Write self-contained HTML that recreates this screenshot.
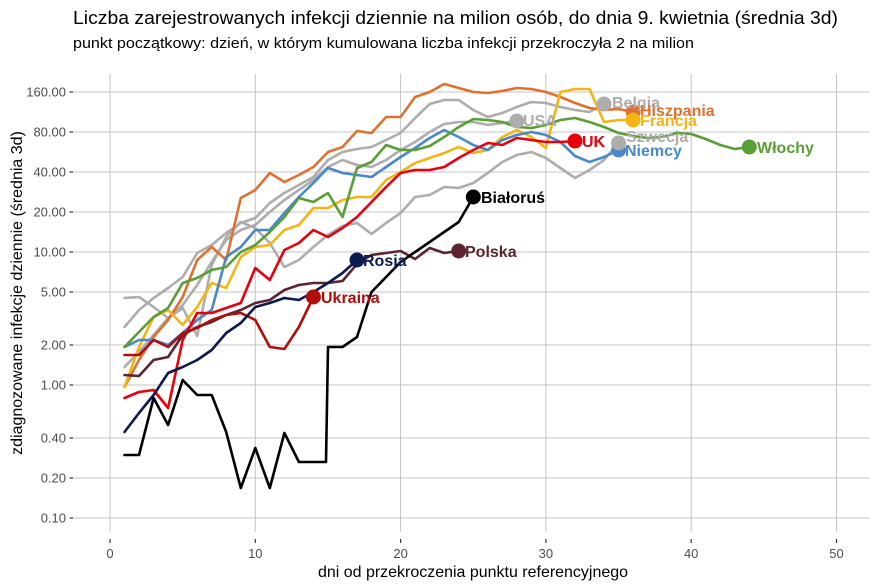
<!DOCTYPE html>
<html><head><meta charset="utf-8"><style>
html,body{margin:0;padding:0;background:#fff;}
svg{display:block;font-family:"Liberation Sans",Arial,sans-serif;}
</style></head><body>
<svg width="880" height="587" viewBox="0 0 880 587" xmlns="http://www.w3.org/2000/svg">
<rect width="880" height="587" fill="#fff"/>
<text x="73" y="24" font-size="18" fill="#000" textLength="765" lengthAdjust="spacingAndGlyphs">Liczba zarejestrowanych infekcji dziennie na milion osób, do dnia 9. kwietnia (średnia 3d)</text>
<text x="73" y="48" font-size="15" fill="#000" textLength="621" lengthAdjust="spacingAndGlyphs">punkt początkowy: dzień, w którym kumulowana liczba infekcji przekroczyła 2 na milion</text>
<g stroke="#c4c4c4" stroke-width="1">
<line x1="73" y1="92" x2="870" y2="92"/><line x1="73" y1="132" x2="870" y2="132"/><line x1="73" y1="172" x2="870" y2="172"/><line x1="73" y1="212" x2="870" y2="212"/><line x1="73" y1="252" x2="870" y2="252"/><line x1="73" y1="292" x2="870" y2="292"/><line x1="73" y1="345" x2="870" y2="345"/><line x1="73" y1="385" x2="870" y2="385"/><line x1="73" y1="438" x2="870" y2="438"/><line x1="73" y1="478" x2="870" y2="478"/><line x1="73" y1="518" x2="870" y2="518"/>
<line x1="110" y1="74" x2="110" y2="532"/><line x1="255.3" y1="74" x2="255.3" y2="532"/><line x1="400.6" y1="74" x2="400.6" y2="532"/><line x1="545.9" y1="74" x2="545.9" y2="532"/><line x1="691.2" y1="74" x2="691.2" y2="532"/><line x1="836.5" y1="74" x2="836.5" y2="532"/>
</g>
<g stroke="#333" stroke-width="1.2">
<line x1="69.5" y1="92" x2="73" y2="92"/><line x1="69.5" y1="132" x2="73" y2="132"/><line x1="69.5" y1="172" x2="73" y2="172"/><line x1="69.5" y1="212" x2="73" y2="212"/><line x1="69.5" y1="252" x2="73" y2="252"/><line x1="69.5" y1="292" x2="73" y2="292"/><line x1="69.5" y1="345" x2="73" y2="345"/><line x1="69.5" y1="385" x2="73" y2="385"/><line x1="69.5" y1="438" x2="73" y2="438"/><line x1="69.5" y1="478" x2="73" y2="478"/><line x1="69.5" y1="518" x2="73" y2="518"/>
<line x1="110" y1="539" x2="110" y2="543"/><line x1="255.3" y1="539" x2="255.3" y2="543"/><line x1="400.6" y1="539" x2="400.6" y2="543"/><line x1="545.9" y1="539" x2="545.9" y2="543"/><line x1="691.2" y1="539" x2="691.2" y2="543"/><line x1="836.5" y1="539" x2="836.5" y2="543"/>
</g>
<g font-size="13" fill="#4d4d4d" text-anchor="end">
<text x="66" y="96.6">160.00</text><text x="66" y="136.6">80.00</text><text x="66" y="176.6">40.00</text><text x="66" y="216.6">20.00</text><text x="66" y="256.6">10.00</text><text x="66" y="296.6">5.00</text><text x="66" y="349.6">2.00</text><text x="66" y="389.6">1.00</text><text x="66" y="442.6">0.40</text><text x="66" y="482.6">0.20</text><text x="66" y="522.6">0.10</text>
</g>
<g font-size="13" fill="#4d4d4d" text-anchor="middle">
<text x="110" y="558">0</text><text x="255.3" y="558">10</text><text x="400.6" y="558">20</text><text x="545.9" y="558">30</text><text x="691.2" y="558">40</text><text x="836.5" y="558">50</text>
</g>
<text x="473" y="577" font-size="16" text-anchor="middle" fill="#000" textLength="310" lengthAdjust="spacingAndGlyphs">dni od przekroczenia punktu referencyjnego</text>
<text transform="translate(22,293) rotate(-90)" font-size="16" text-anchor="middle" fill="#000">zdiagnozowane infekcje dziennie (średnia 3d)</text>

<g fill="none" stroke-width="2.6" stroke-linejoin="round" stroke-linecap="round">
<polyline stroke="#adadad" points="124.5,298 139,297 153.6,307 168.1,318 182.7,308 197.2,336 211.7,265 226.2,237 240.8,222 255.3,228 269.8,243 284.4,267 298.9,260 313.4,247 328,235 342.5,226 357,223 371.5,234 386.1,223 400.6,213 415.1,197 429.7,195 444.2,187 458.7,188 473.3,183 487.8,173 502.3,162 516.8,155 531.4,152 545.9,158 560.4,168 575,178 589.5,170 604,160 618.6,143"/>
<polyline stroke="#adadad" points="124.5,327 139,310 153.6,298 168.1,288 182.7,277 197.2,253 211.7,245 226.2,233 240.8,223 255.3,218 269.8,203 284.4,193 298.9,185 313.4,177 328,160 342.5,152 357,149 371.5,147 386.1,140 400.6,133 415.1,118 429.7,104 444.2,100 458.7,100 473.3,110 487.8,117 502.3,113 516.8,107 531.4,102 545.9,103 560.4,107 575,110 589.5,112 604,104"/>
<polyline stroke="#adadad" points="124.5,367 139,352 153.6,335 168.1,318 182.7,305 197.2,285 211.7,262 226.2,240 240.8,230 255.3,225 269.8,212 284.4,200 298.9,190 313.4,180 328,167 342.5,160 357,165 371.5,167 386.1,160 400.6,150 415.1,142 429.7,132 444.2,124 458.7,122 473.3,122 487.8,125 502.3,123 516.8,121"/>
<polyline stroke="#e07030" points="124.5,387 139,360 153.6,337 168.1,320 182.7,297 197.2,260 211.7,247 226.2,260 240.8,198 255.3,190 269.8,173 284.4,182 298.9,175 313.4,167 328,152 342.5,147 357,131 371.5,133 386.1,117 400.6,117 415.1,97 429.7,92 444.2,84 458.7,88 473.3,92 487.8,93 502.3,91 516.8,88 531.4,89 545.9,92 560.4,97 575,103 589.5,108 604,110 618.6,109 633.1,112"/>
<polyline stroke="#f5b415" points="124.5,387 139,347 153.6,317 168.1,310 182.7,325 197.2,307 211.7,283 226.2,288 240.8,257 255.3,247 269.8,245 284.4,230 298.9,225 313.4,208 328,208 342.5,200 357,197 371.5,197 386.1,180 400.6,172 415.1,163 429.7,158 444.2,153 458.7,147 473.3,153 487.8,150 502.3,137 516.8,130 531.4,137 545.9,148 560.4,92 575,89 589.5,89 604,122 618.6,120 633.1,120"/>
<polyline stroke="#4a88c8" points="124.5,347 139,340 153.6,340 168.1,345 182.7,333 197.2,320 211.7,310 226.2,257 240.8,247 255.3,230 269.8,230 284.4,213 298.9,197 313.4,183 328,168 342.5,173 357,175 371.5,177 386.1,167 400.6,157 415.1,148 429.7,138 444.2,130 458.7,137 473.3,145 487.8,150 502.3,140 516.8,135 531.4,132 545.9,135 560.4,142 575,156 589.5,162 604,157 618.6,150"/>
<polyline stroke="#5a9e36" points="124.5,347 139,332 153.6,317 168.1,308 182.7,283 197.2,278 211.7,270 226.2,267 240.8,252 255.3,245 269.8,232 284.4,217 298.9,198 313.4,202 328,193 342.5,217 357,168 371.5,162 386.1,145 400.6,150 415.1,150 429.7,146 444.2,137 458.7,127 473.3,119 487.8,120 502.3,122 516.8,127 531.4,128 545.9,125 560.4,120 575,118 589.5,122 604,127 618.6,133 633.1,136 647.6,138 662.1,137 676.7,133 691.2,134 705.7,139 720.3,145 734.8,149 749.3,147"/>
<polyline stroke="#e8000b" points="124.5,398 139,392 153.6,390 168.1,408 182.7,340 197.2,313 211.7,313 226.2,308 240.8,303 255.3,268 269.8,280 284.4,250 298.9,243 313.4,230 328,237 342.5,228 357,217 371.5,202 386.1,187 400.6,173 415.1,170 429.7,170 444.2,167 458.7,158 473.3,150 487.8,143 502.3,145 516.8,138 531.4,140 545.9,142 560.4,142 575,141"/>
<polyline stroke="#5a2530" points="124.5,375 139,376 153.6,360 168.1,357 182.7,335 197.2,327 211.7,322 226.2,315 240.8,310 255.3,303 269.8,300 284.4,290 298.9,285 313.4,283 328,283 342.5,281 357,264 371.5,255 386.1,253 400.6,251 415.1,259 429.7,248 444.2,253 458.7,251"/>
<polyline stroke="#b00d0d" points="124.5,355 139,355 153.6,340 168.1,347 182.7,333 197.2,328 211.7,320 226.2,315 240.8,313 255.3,320 269.8,347 284.4,349 298.9,327 313.4,297"/>
<polyline stroke="#0b1a4f" points="124.5,432 139,413 153.6,395 168.1,373 182.7,367 197.2,360 211.7,350 226.2,333 240.8,323 255.3,307 269.8,303 284.4,298 298.9,300 313.4,292 328,283 342.5,273 357,260"/>
<polyline stroke="#000" points="124.5,455 139,455 153.6,398 168.1,425 182.7,380 197.2,395 211.7,395 226.2,432 240.8,488 255.3,448 269.8,488 284.4,433 298.9,462 313.4,462 326,462 328,347 342.5,347 357,337 371.5,292 386.1,277 400.6,262 415.1,252 429.7,242 444.2,232 458.7,222 473.3,197"/>
</g>

<g>
<circle cx="604" cy="104" r="7.5" fill="#adadad"/>
<circle cx="516.8" cy="121" r="7.5" fill="#adadad"/>
<circle cx="633.1" cy="112" r="7.5" fill="#e07030"/>
<circle cx="633.1" cy="120" r="7.5" fill="#f5b415"/>
<circle cx="618.6" cy="150" r="7.5" fill="#4a88c8"/>
<circle cx="618.6" cy="143" r="7.5" fill="#adadad"/>
<circle cx="749.3" cy="147" r="7.5" fill="#5a9e36"/>
<circle cx="575" cy="141" r="7.5" fill="#e8000b"/>
<circle cx="458.7" cy="251" r="7.5" fill="#5a2530"/>
<circle cx="313.4" cy="297" r="7.5" fill="#b00d0d"/>
<circle cx="357" cy="260" r="7.5" fill="#0b1a4f"/>
<circle cx="473.3" cy="197" r="7.5" fill="#000"/>
</g>

<g font-size="16" font-weight="bold">
<text x="612" y="108" fill="#adadad">Belgia</text>
<text x="640" y="116" fill="#e07030">Hiszpania</text>
<text x="640" y="126" fill="#f5b415">Francja</text>
<text x="523" y="126" fill="#adadad">USA</text>
<text x="582" y="147" fill="#e8000b">UK</text>
<text x="626" y="142" fill="#adadad">Szwecja</text>
<text x="625" y="156" fill="#4a88c8">Niemcy</text>
<text x="757" y="153" fill="#5a9e36">Włochy</text>
<text x="481" y="203" fill="#000">Białoruś</text>
<text x="465" y="257" fill="#5a2530">Polska</text>
<text x="363" y="266" fill="#0b1a4f">Rosja</text>
<text x="321" y="303" fill="#b00d0d">Ukraina</text>
</g>
</svg>
</body></html>
